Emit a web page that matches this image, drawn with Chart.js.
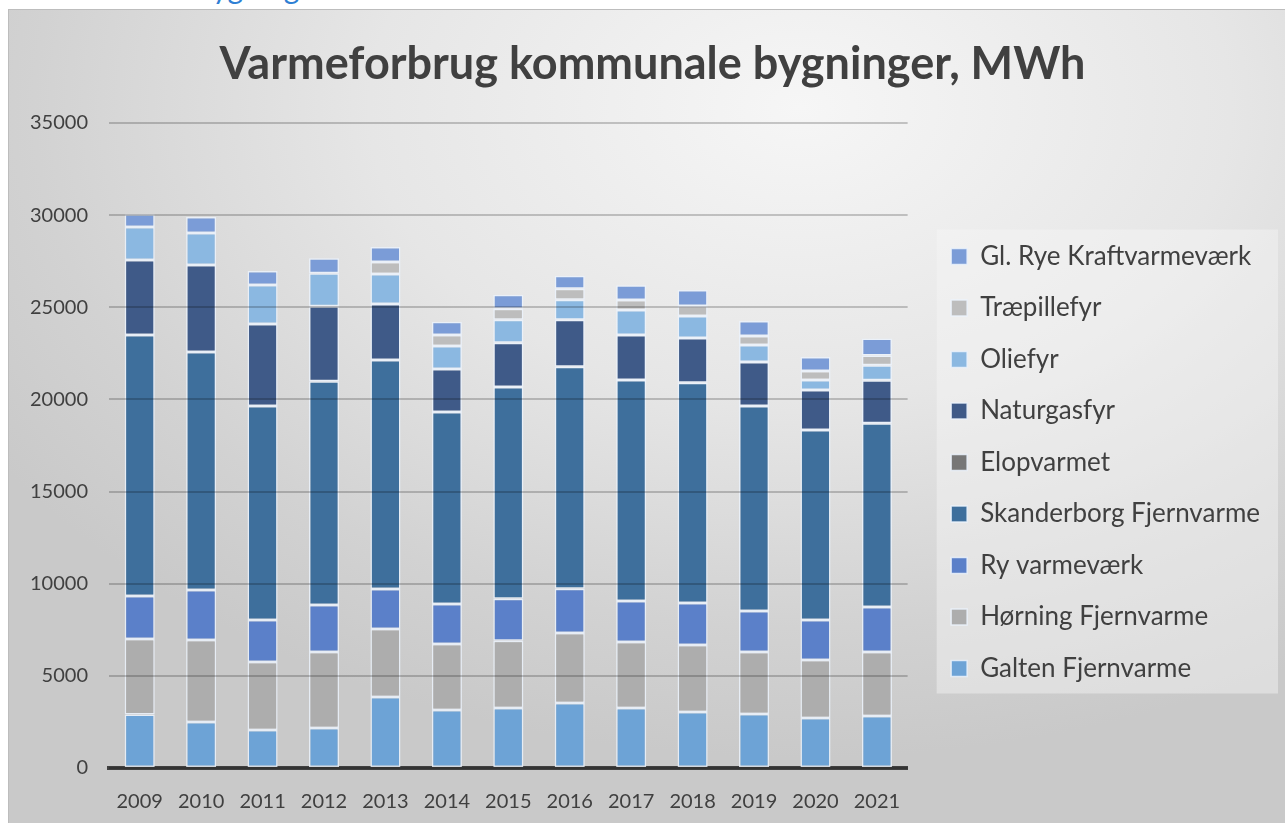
<!DOCTYPE html>
<html>
<head>
<meta charset="utf-8">
<script src="https://cdn.jsdelivr.net/npm/chart.js@4.4.1/dist/chart.umd.min.js"></script>
<style>
  body { margin: 0; background: #fff; width: 1285px; height: 823px; overflow: hidden; position: relative; font-family: Lato, "Open Sans", sans-serif; }
  #head { position: absolute; left: 196px; top: -31px; font-size: 30px; color: #2f80d4; }
  #panel { position: absolute; left: 8px; top: 9px; width: 1277px; height: 814px;
    border-top: 1px solid #bdbdbd; border-left: 1px solid #bdbdbd; box-sizing: border-box;
    background: radial-gradient(ellipse 75% 80% at 62% 12%, #f6f6f6 0%, #e6e6e6 45%, #d2d2d2 80%, #c9c9c9 100%); }
  canvas { display: block; }
</style>
</head>
<body>
<div id="head">bygninger</div>
<div id="panel"><canvas id="chartHeat" width="1276" height="813"></canvas></div>
<script>
// Data
const years = ['2009', '2010', '2011', '2012', '2013', '2014', '2015', '2016', '2017', '2018', '2019', '2020', '2021'];

const galten      = [2900, 2500, 2060, 2170, 3850, 3150, 3260, 3530, 3260, 3040, 2930, 2710, 2820];
const horning     = [4100, 4450, 3690, 4120, 3690, 3580, 3640, 3800, 3580, 3640, 3360, 3150, 3470];
const ry          = [2330, 2710, 2280, 2550, 2170, 2170, 2280, 2390, 2220, 2280, 2230, 2170, 2440];
const skanderborg = [14160, 12910, 11610, 12150, 12430, 10420, 11500, 12050, 11990, 11940, 11120, 10310, 9980];
const elopvarmet  = [0, 0, 0, 0, 0, 0, 0, 0, 0, 0, 0, 0, 0];
const naturgas    = [4070, 4720, 4450, 4070, 3040, 2330, 2390, 2550, 2440, 2440, 2390, 2170, 2330];
const olie        = [1790, 1740, 2120, 1790, 1630, 1250, 1250, 1090, 1360, 1190, 920, 540, 810];
const traepille   = [0, 0, 0, 0, 650, 600, 600, 600, 540, 540, 490, 490, 540];
const glRye       = [700, 870, 760, 810, 810, 710, 760, 700, 810, 870, 810, 760, 920];

const yTicks = [0, 5000, 10000, 15000, 20000, 25000, 30000, 35000];

const series = [
  { label: 'Galten Fjernvarme', data: galten, color: '#6da3d6' },
  { label: 'Hørning Fjernvarme', data: horning, color: '#adadad' },
  { label: 'Ry varmeværk', data: ry, color: '#5b80c9' },
  { label: 'Skanderborg Fjernvarme', data: skanderborg, color: '#3e6f9c' },
  { label: 'Elopvarmet', data: elopvarmet, color: '#777777' },
  { label: 'Naturgasfyr', data: naturgas, color: '#3f5a88' },
  { label: 'Oliefyr', data: olie, color: '#8bb8e1' },
  { label: 'Træpillefyr', data: traepille, color: '#bdbdbd' },
  { label: 'Gl. Rye Kraftvarmeværk', data: glRye, color: '#7b9cd7' }
];

// light box behind the legend items
const legendBg = {
  id: 'legendBg',
  beforeDraw(chart) {
    const lg = chart.legend;
    if (!lg || !lg.legendHitBoxes || !lg.legendHitBoxes.length) return;
    const boxes = lg.legendHitBoxes;
    const top = Math.min(...boxes.map(b => b.top)) - 14;
    const bottom = Math.max(...boxes.map(b => b.top + b.height)) + 12;
    const c = chart.ctx;
    c.save();
    c.fillStyle = 'rgba(246,246,246,0.45)';
    c.fillRect(lg.left + 11, top, chart.width - 7 - (lg.left + 11), bottom - top);
    c.restore();
  }
};

// title sits a bit right of the canvas centre in the original
const titleShift = {
  id: 'titleShift',
  afterLayout(chart) {
    const t = chart.titleBlock;
    if (!t) return;
    t.left += 13;
    t.right += 13;
  }
};

const ctx = document.getElementById('chartHeat').getContext('2d');
const chart = new Chart(ctx, {
  type: 'bar',
  data: {
    labels: years,
    datasets: series.map(s => ({
      label: s.label,
      data: s.data,
      backgroundColor: s.color,
      borderColor: 'rgba(235,242,252,0.85)',
      borderWidth: 1.5,
      borderSkipped: false,
      categoryPercentage: 1,
      barPercentage: 0.49
    }))
  },
  options: {
    responsive: false,
    animation: false,
    layout: { padding: { left: 0, right: 15, top: 6, bottom: -5 } },
    plugins: {
      title: {
        display: true,
        text: 'Varmeforbrug kommunale bygninger, MWh',
        color: '#404040',
        font: { family: 'Lato', size: 45, weight: 'bold' },
        padding: { top: 21, bottom: 32 }
      },
      legend: {
        position: 'right',
        reverse: true,
        align: 'start',
        maxWidth: 420,
        title: { display: true, text: ' ', font: { size: 10 }, padding: { top: 190, bottom: 0 } },
        labels: {
          color: '#404040',
          font: { family: 'Lato', size: 26 },
          boxWidth: 16,
          boxHeight: 16,
          padding: 25.5
        }
      },
      tooltip: { enabled: false }
    },
    scales: {
      x: {
        stacked: true,
        grid: { display: false },
        border: { display: true, color: '#404040', width: 4 },
        ticks: { color: '#404040', font: { family: 'Lato', size: 20 }, padding: 14 }
      },
      y: {
        stacked: true,
        min: 0,
        max: 35000,
        afterBuildTicks: axis => { axis.ticks = yTicks.map(v => ({ value: v })); },
        grid: { color: 'rgba(0,0,0,0.2)', lineWidth: 2, drawTicks: false, z: 1 },
        border: { display: false },
        ticks: { color: '#404040', font: { family: 'Lato', size: 20 }, padding: 21, callback: v => String(v) }
      },
      // empty axis used only as a gap between the plot and the legend
      gap: {
        position: 'right',
        display: true,
        grid: { display: false, drawTicks: false },
        border: { display: false },
        ticks: { display: false },
        afterFit: axis => { axis.width = 18; }
      }
    }
  },
  plugins: [legendBg, titleShift]
});
</script>
</body>
</html>
